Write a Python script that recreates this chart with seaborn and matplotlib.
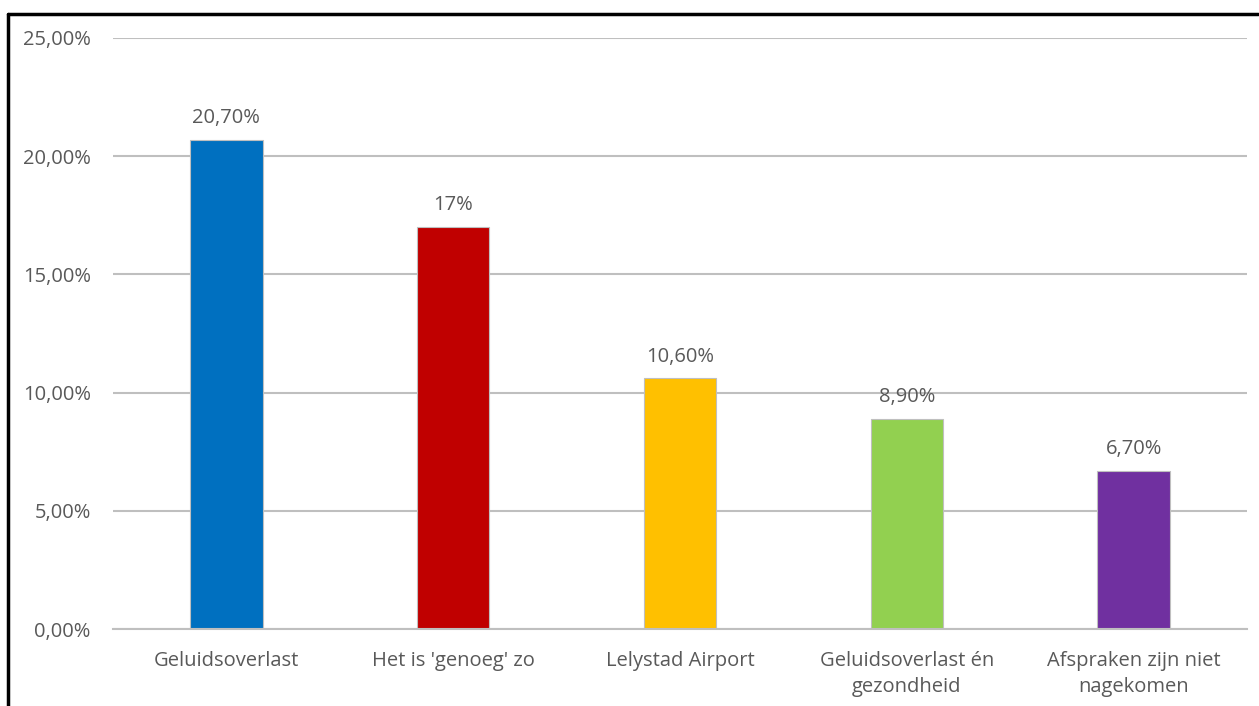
import matplotlib.pyplot as plt
import numpy as np
import pandas as pd
import seaborn as sns
from matplotlib.lines import Line2D

sns.set_style("white")
plt.rcParams['font.family'] = ['Open Sans', 'DejaVu Sans']

# data
categories = ["Geluidsoverlast", "Het is 'genoeg' zo", "Lelystad Airport",
              "Geluidsoverlast én\ngezondheid", "Afspraken zijn niet\nnagekomen"]
values = [20.7, 17.0, 10.6, 8.9, 6.7]
value_labels = ["20,70%", "17%", "10,60%", "8,90%", "6,70%"]
colors = ["#0070C0", "#C00000", "#FFC000", "#92D050", "#7030A0"]
yticks = [0, 5, 10, 15, 20, 25]
ytick_labels = ["0,00%", "5,00%", "10,00%", "15,00%", "20,00%", "25,00%"]

df = pd.DataFrame({"cat": categories, "val": values})

fig = plt.figure(figsize=(12.59, 7.06), dpi=100)
ax = fig.add_axes([113 / 1259, 1 - 629 / 706, (1247 - 113) / 1259, (629 - 38) / 706])

sns.barplot(data=df, x="cat", y="val", hue="cat", palette=colors, legend=False,
            saturation=1, width=0.32, edgecolor="#BFBFBF", linewidth=0.8, ax=ax)

text_color = "#595959"
fs = 14.5
for i, (v, lab) in enumerate(zip(values, value_labels)):
    ax.text(i, v + 0.5, lab, ha="center", va="bottom", fontsize=fs, color=text_color)

ax.set_ylim(0, 25)
ax.set_xlim(-0.5, len(categories) - 0.5)
ax.set_yticks(yticks)
ax.set_yticklabels(ytick_labels, fontsize=fs, color=text_color)
ax.tick_params(axis="y", length=0, pad=16)
ax.set_xticks(range(len(categories)))
ax.set_xticklabels(categories, fontsize=fs, color=text_color, linespacing=1.4)
ax.tick_params(axis="x", which="major", length=0, pad=16)
ax.set_xticks(np.arange(-0.5, len(categories), 1.0), minor=True)
ax.tick_params(axis="x", which="minor", length=6, color="#BFBFBF", width=1)
ax.grid(axis="y", color="#BFBFBF", linewidth=1.5)
ax.set_axisbelow(True)
ax.set_xlabel("")
ax.set_ylabel("")
for s in ["top", "right", "left"]:
    ax.spines[s].set_visible(False)
ax.spines["bottom"].set_color("#BFBFBF")
ax.spines["bottom"].set_linewidth(1.5)

# outer frame (top and left edges)
fig.add_artist(Line2D([7.5 / 1259, 7.5 / 1259], [0, 1 - 14 / 706], color="black", linewidth=2.5,
                      transform=fig.transFigure))
fig.add_artist(Line2D([7.5 / 1259, 1258 / 1259], [1 - 14 / 706, 1 - 14 / 706], color="black",
                      linewidth=2.5, transform=fig.transFigure))

fig.savefig("out.png", dpi=100)
